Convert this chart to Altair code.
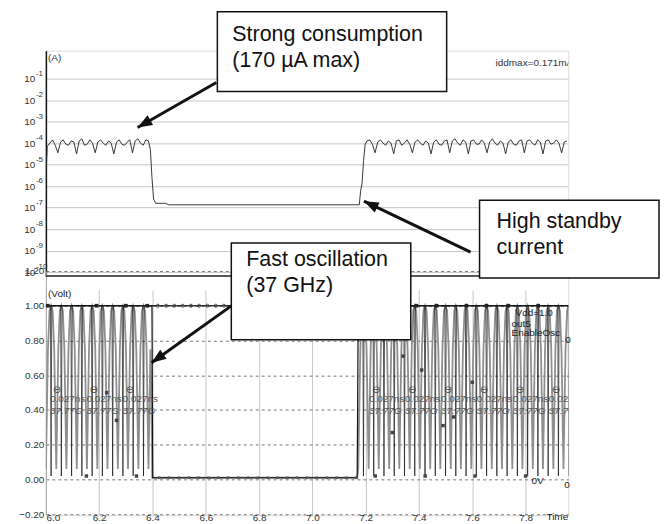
import math
import altair as alt
import pandas as pd

# ---------------- data ----------------
# Top panel: supply current (A), log10 values
cur_start_t = [6.000]
cur_start = [-5.7]
cur_a_t0, cur_step = 6.005, 0.01
cur_a = [-4.15, -4.0, -3.85, -4.1, -4.45, -3.95, -3.85, -4.05, -4.1, -3.9,
         -3.95, -4.5, -3.9, -3.8, -4.1, -4.05, -3.85, -4.0, -4.45, -3.95,
         -3.85, -4.0, -4.1, -3.9, -4.0, -4.5, -3.95, -3.85, -4.05, -4.1,
         -3.95, -3.85, -4.45, -3.9, -3.8, -4.0, -4.1, -3.85, -3.9]
cur_mid_t = [6.392, 6.398, 6.404, 6.412, 6.450, 6.460, 7.176, 7.181, 7.186, 7.192, 7.198]
cur_mid = [-4.3, -5.6, -6.6, -6.80, -6.80, -6.87, -6.87, -6.2, -5.9, -4.8, -4.05]
cur_b_t0 = 7.205
cur_b = [-3.9, -3.85, -4.05, -4.45, -3.95, -3.85, -4.0, -4.1, -3.9, -4.0,
         -4.5, -3.9, -3.85, -4.1, -4.0, -3.85, -4.05, -4.45, -3.95, -3.85,
         -4.0, -4.1, -3.9, -4.0, -4.5, -3.95, -3.85, -4.05, -4.1, -3.9,
         -3.85, -4.45, -3.9, -3.8, -4.0, -4.1, -3.85, -3.95, -4.5, -3.9,
         -3.85, -4.05, -4.05, -3.85, -4.0, -4.45, -3.95, -3.8, -4.0, -4.1,
         -3.9, -4.0, -4.5, -3.95, -3.85, -4.05, -4.1, -3.9, -3.85, -4.45,
         -3.9, -3.85, -4.0, -4.1, -3.85, -3.95, -4.5, -3.9, -3.85, -4.05,
         -4.0, -3.85, -4.0, -4.45, -3.95, -3.9]

# Bottom panel: out5 oscillation (troughs of the grey waveform, ns) and its cycle shape
out5_troughs_a = [6.000, 6.039, 6.077, 6.116, 6.154, 6.193, 6.231, 6.270, 6.308, 6.347]
out5_tail_t = [6.385, 6.392, 6.396, 6.399]
out5_tail_v = [0.06, 0.75, 0.50, 0.01]
out5_troughs_b = [7.172, 7.211, 7.249, 7.288, 7.326, 7.365, 7.403, 7.442, 7.480, 7.519,
                  7.557, 7.596, 7.634, 7.673, 7.711, 7.750, 7.788, 7.827, 7.865, 7.904, 7.942]
out5_period = 0.0385
cycle_phase = [0.0, 0.2, 0.35, 0.5, 0.65, 0.8]
cycle_level = [0.06, 0.75, 0.97, 1.0, 0.97, 0.75]
out5_low = 0.01

enable_t = [6.0, 6.398, 6.401, 7.168, 7.172, 7.96]
enable_v = [1.0, 1.0, 0.01, 0.01, 1.0, 1.0]
vdd_t = [6.0, 7.96]
vdd_v = [1.0, 1.0]

sq_top_t = [6.007, 6.19, 6.30, 6.38, 7.39, 7.466, 7.578, 7.653, 7.735, 7.847]
circ_mid_t = [6.42, 6.451, 6.482, 6.513, 6.544, 6.575, 6.606, 6.637, 6.668, 6.699, 6.730,
              6.761, 6.792, 6.823, 6.854, 6.885, 6.916, 6.947, 6.978, 7.009, 7.040, 7.071,
              7.102, 7.133]
cross_mid_t = [6.425, 6.462, 6.499, 6.536, 6.573, 6.610, 6.647, 6.684, 6.721, 6.758, 6.795,
               6.832, 6.869, 6.906, 6.943, 6.980, 7.017, 7.054, 7.091, 7.128, 7.165]
sq_scatter_t = [6.152, 6.34, 6.228, 6.265, 7.34, 7.41, 7.30, 7.49, 7.236, 7.423, 7.60, 7.53, 7.61, 7.80]
sq_scatter_v = [0.02, 0.02, 0.50, 0.34, 0.71, 0.63, 0.27, 0.31, 0.02, 0.02, 0.56, 0.36, 0.02, 0.02]

meas_t = [6.015, 6.152, 6.288, 7.212, 7.347, 7.482, 7.617, 7.752, 7.887]
meas_period = "0.027ns"
meas_freq = "37.77G"

x_ticks = [6.0, 6.2, 6.4, 6.6, 6.8, 7.0, 7.2, 7.4, 7.6, 7.8]
i_ticks = [1e-1, 1e-2, 1e-3, 1e-4, 1e-5, 1e-6, 1e-7, 1e-8, 1e-9, 1e-10]
i_tick_exp = ["-1", "-2", "-3", "-4", "-5", "-6", "-7", "-8", "-9", "-10"]
v_ticks = [-0.2, 0.0, 0.2, 0.4, 0.6, 0.8, 1.0, 1.2]

box1_text = ["Strong consumption", "(170 µA max)"]
box2_text = ["High standby", "current"]
box3_text = ["Fast oscillation", "(37 GHz)"]

# ---------------- tables ----------------
cur_rows = list(zip(cur_start_t, cur_start))
cur_rows += [(cur_a_t0 + i * cur_step, v) for i, v in enumerate(cur_a)]
cur_rows += list(zip(cur_mid_t, cur_mid))
cur_rows += [(cur_b_t0 + i * cur_step, v) for i, v in enumerate(cur_b)]
cur_df = pd.DataFrame({"t": [r[0] for r in cur_rows], "I": [10 ** r[1] for r in cur_rows]})


def cycles(troughs):
    rows = []
    for i, tk in enumerate(troughs):
        p = troughs[i + 1] - tk if i + 1 < len(troughs) else out5_period
        for ph, lv in zip(cycle_phase, cycle_level):
            rows.append((tk + ph * p, lv))
    return rows


g_rows = cycles(out5_troughs_a) + list(zip(out5_tail_t, out5_tail_v))
g_rows += [(7.168, out5_low)] + cycles(out5_troughs_b)
gray_df = pd.DataFrame({"t": [r[0] for r in g_rows], "v": [r[1] for r in g_rows]})

b_rows = [(6.0, 1.0)]
for tr in [out5_troughs_a, out5_troughs_b]:
    for i, tk in enumerate(tr):
        p = tr[i + 1] - tk if i + 1 < len(tr) else out5_period
        c = tk + 0.5 * p
        b_rows += [(c - 0.0025, 1.0), (c, 0.02), (c + 0.0025, 1.0)]
b_rows.append((7.96, 1.0))
black_df = pd.DataFrame({"t": [r[0] for r in b_rows], "v": [r[1] for r in b_rows]})

enable_df = pd.DataFrame({"t": enable_t, "v": enable_v})
vdd_df = pd.DataFrame({"t": vdd_t, "v": vdd_v})
sq_top_df = pd.DataFrame({"t": sq_top_t, "v": [1.0] * len(sq_top_t)})
circ_df = pd.DataFrame({"t": circ_mid_t, "v": [1.0] * len(circ_mid_t)})
cross_df = pd.DataFrame({"t": cross_mid_t, "v": [out5_low] * len(cross_mid_t)})
scat_df = pd.DataFrame({"t": sq_scatter_t, "v": sq_scatter_v})
meas_df = pd.DataFrame({"t": meas_t})
exp_df = pd.DataFrame({"I": i_ticks, "e": i_tick_exp})

# ---------------- scales / axes ----------------
W, H = 524, 466
FONT = "Liberation Sans"
xs = alt.Scale(domain=[6.0, 7.96], nice=False, zero=False)
ys_top = alt.Scale(type="log", domain=[10 ** -10.18, 10 ** 0.30], range=[226, 0], nice=False)
ys_bot = alt.Scale(domain=[-0.2, 1.2], range=[465, 221], nice=False, zero=False)

x_axis = alt.Axis(values=x_ticks, format=".1f", grid=True, gridColor="#c6c6c6", ticks=False,
                  domain=False, labelBaseline="middle", labelPadding=2, title=None,
                  labelFont=FONT, labelFontSize=10, labelColor="#333")


def X(field="t"):
    return alt.X(field, type="quantitative", scale=xs, axis=x_axis)


top_axis = alt.Axis(values=i_ticks, labelExpr="'10'", grid=True, gridColor="#c6c6c6",
                    ticks=False, domain=True, domainColor="#111", domainWidth=1.5, orient="left",
                    labelPadding=11, title=None, labelFont=FONT, labelFontSize=10,
                    labelColor="#333")
bot_axis = alt.Axis(values=v_ticks, format=".2f", grid=True, gridColor="#555", gridDash=[3, 3],
                    gridWidth=0.8, ticks=False, domain=True, domainColor="#aaa", orient="left",
                    labelPadding=2, title=None, labelFont=FONT, labelFontSize=10, labelColor="#333")


def YT(field="I"):
    return alt.Y(field, type="quantitative", scale=ys_top, axis=top_axis)


def YB(field="v"):
    return alt.Y(field, type="quantitative", scale=ys_bot, axis=bot_axis)


# ---------------- top panel ----------------
top_line = alt.Chart(cur_df).mark_line(color="#222", strokeWidth=0.9, clip=True).encode(x=X(), y=YT())
sep = alt.Chart(pd.DataFrame({"I": [10 ** -10.18]})).mark_rule(color="#222", strokeWidth=1.5).encode(y=YT())
top_txt = alt.Chart(pd.DataFrame({"t": [6.008, 7.687], "I": [0.94, 0.55], "s": ["(A)", "iddmax=0.171mA"]})).mark_text(
    align="left", baseline="middle", font=FONT, fontSize=10, color="#333", clip=True
).encode(x=X(), y=YT(), text="s:N")
exps = alt.Chart(exp_df).mark_text(align="left", baseline="middle", font=FONT, fontSize=8,
                                   color="#333", dy=-5).encode(
    x=alt.value(-10), y=YT(), text="e:N")
top = alt.layer(top_line, sep, top_txt, exps)

# ---------------- bottom panel ----------------
gray_line = alt.Chart(gray_df).mark_line(color="#8f8f8f", strokeWidth=1.8, clip=True).encode(x=X(), y=YB())
black_line = alt.Chart(black_df).mark_line(color="#111", strokeWidth=0.7, clip=True).encode(x=X(), y=YB())
enable_line = alt.Chart(enable_df).mark_line(color="#111", strokeWidth=1.2, clip=True).encode(x=X(), y=YB())
vdd_line = alt.Chart(vdd_df).mark_line(color="#111", strokeWidth=1.2, clip=True).encode(x=X(), y=YB())
sq_top = alt.Chart(sq_top_df).mark_point(shape="square", filled=True, size=14, color="#222", opacity=1).encode(x=X(), y=YB())
circ = alt.Chart(circ_df).mark_point(shape="circle", filled=False, size=10, color="#555", strokeWidth=1, opacity=1).encode(x=X(), y=YB())
cross = alt.Chart(cross_df).mark_point(shape="cross", filled=True, size=10, color="#555", opacity=1, angle=45).encode(x=X(), y=YB())
scat = alt.Chart(scat_df).mark_point(shape="square", filled=True, size=12, color="#444", opacity=1).encode(x=X(), y=YB())
meas_sym = alt.Chart(meas_df).mark_text(text="⊖", align="left", baseline="middle", font="DejaVu Sans",
                                         fontSize=10, color="#444", dx=3, clip=True).encode(
    x=X(), y=alt.datum(0.515, scale=ys_bot))
meas_p = alt.Chart(meas_df).mark_text(text=meas_period, align="left", baseline="middle", font=FONT,
                                       fontSize=10, color="#555", clip=True).encode(
    x=X(), y=alt.datum(0.465, scale=ys_bot))
meas_f = alt.Chart(meas_df).mark_text(text=meas_freq, align="left", baseline="middle", font=FONT,
                                       fontSize=10, fontStyle="italic", color="#555", clip=True).encode(
    x=X(), y=alt.datum(0.395, scale=ys_bot))
bot_lab_df = pd.DataFrame({
    "t": [6.008, 7.762, 7.747, 7.747, 7.949, 7.822, 7.945, 7.878],
    "v": [1.069, 0.96, 0.893, 0.843, 0.80, -0.011, -0.03, -0.217],
    "s": ["(Volt)", "Vdd=1.0", "out5", "EnableOsc", "0", "0V", "0", "Time"],
})
bot_lab = alt.Chart(bot_lab_df).mark_text(align="left", baseline="middle", font=FONT, fontSize=10,
                                          color="#222").encode(x=X(), y=YB(), text="s:N")
bottom = alt.layer(gray_line, black_line, enable_line, vdd_line, sq_top, circ, cross, scat,
                   meas_sym, meas_p, meas_f, bot_lab)

# ---------------- callouts ----------------
one = pd.DataFrame({"k": [0]})
OX, OY = 46, 50  # plot origin inside the page picture


def box(x0, y0, x1, y1):
    return alt.Chart(one).mark_rect(fill="white", stroke="#111", strokeWidth=1.5).encode(
        x=alt.value(x0 - OX), x2=alt.value(x1 - OX), y=alt.value(y0 - OY), y2=alt.value(y1 - OY))


def label(lines, x0, y0):
    return alt.Chart(one).mark_text(align="left", baseline="middle", font=FONT, fontSize=21.5,
                                    lineHeight=26, color="#111").encode(
        x=alt.value(x0 - OX), y=alt.value(y0 - OY), text=alt.value(lines))


def arrow(xa, ya, xb, yb):
    ang = (math.degrees(math.atan2(xb - xa, -(yb - ya))) + 360) % 360
    line = alt.Chart(one).mark_rule(color="#111", strokeWidth=3).encode(
        x=alt.value(xa - OX), y=alt.value(ya - OY), x2=alt.value(xb - OX), y2=alt.value(yb - OY))
    head = alt.Chart(one).mark_point(shape="M0,0 L0.8,2.1 L-0.8,2.1 Z", size=196, filled=True,
                                     color="#111", opacity=1, angle=ang).encode(
        x=alt.value(xb - OX), y=alt.value(yb - OY))
    return [line, head]


ann = alt.layer(
    *arrow(217, 82, 138, 127),
    *arrow(472, 252, 365, 201),
    *arrow(232, 306, 152, 363),
    box(218, 11, 448, 91), label(box1_text, 233, 34),
    box(481, 200, 661, 278), label(box2_text, 498, 222),
    box(232, 243, 412, 340), label(box3_text, 247, 260),
)

chart = alt.layer(top, bottom, ann).resolve_scale(y="independent").properties(
    width=W, height=H,
    autosize=alt.AutoSizeParams(type="none"),
    padding={"left": 38, "top": 42, "right": 92, "bottom": 8},
).configure_view(stroke=None, fill="#f9fafc").configure(font=FONT)

chart.save("out.html", embed_options={"renderer": "svg", "actions": False})
